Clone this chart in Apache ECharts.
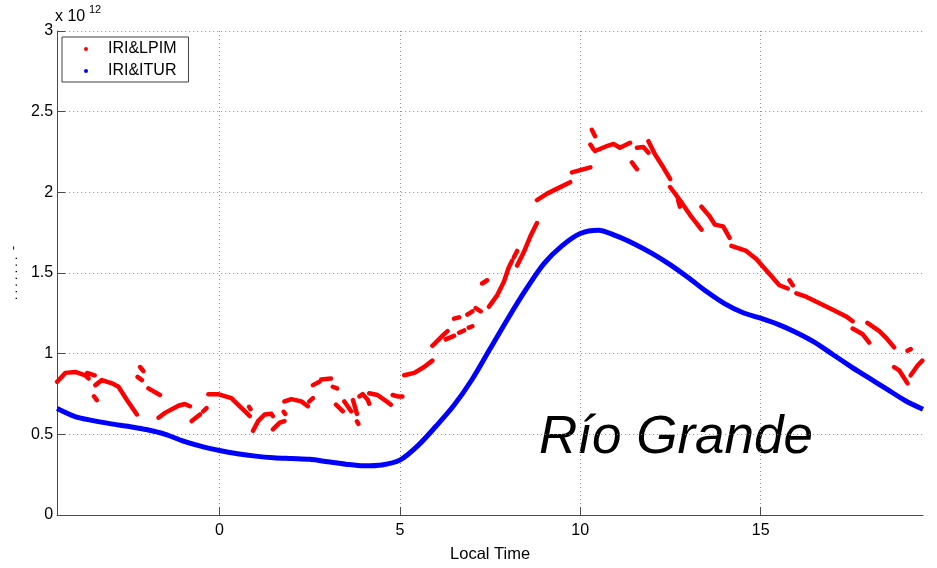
<!DOCTYPE html>
<html><head><meta charset="utf-8">
<script src="https://cdn.jsdelivr.net/npm/echarts@6/dist/echarts.min.js"></script>
<style>html,body{margin:0;padding:0;background:#fff}#c{width:937px;height:568px}</style>
</head><body><div id="c"></div>
<script>
const xTicks = [0, 5, 10, 15];
const seriesNames = ['IRI&LPIM', 'IRI&ITUR'];
const blueX = [-4.5,-4,-3.5,-3,-2.5,-2,-1.5,-1,-0.5,0,0.5,1,1.5,2,2.5,3,3.5,4,4.5,5,5.5,6,6.5,7,7.5,8,8.5,9,9.5,10,10.5,11,11.5,12,12.5,13,13.5,14,14.5,15,15.5,16,16.5,17,17.5,18,18.5,19,19.5];
const blueY = [0.66,0.61,0.585,0.565,0.548,0.528,0.50,0.458,0.425,0.40,0.38,0.365,0.355,0.35,0.345,0.33,0.315,0.305,0.31,0.34,0.43,0.55,0.68,0.84,1.03,1.22,1.40,1.56,1.67,1.745,1.765,1.73,1.68,1.62,1.55,1.47,1.385,1.31,1.255,1.22,1.18,1.13,1.07,0.995,0.92,0.85,0.78,0.71,0.655];
const redX = [
-4.50,-4.27,-4.00,-3.72,-3.63,null,
-3.67,-3.46,null,
-3.44,-3.26,-2.98,-2.80,-2.57,-2.29,null,
-3.48,-3.40,null,
-2.20,-2.11,null,
-2.27,-2.15,null,
-1.97,-1.65,null,
-1.69,-1.51,-1.14,-0.96,-0.82,null,
-0.77,-0.54,null,
-0.45,-0.36,null,
-0.31,-0.04,0.33,0.42,0.75,0.84,null,
0.82,0.86,null,
0.93,1.07,1.25,1.44,1.48,null,
1.48,1.67,1.80,null,
1.78,1.82,null,
1.80,1.99,2.27,2.45,null,
2.49,2.59,null,
2.59,2.77,null,
2.82,3.09,null,
3.14,3.26,null,
3.23,3.42,null,
3.46,3.65,null,
3.70,3.81,null,
3.81,3.85,null,
3.88,3.97,4.11,4.15,null,
4.15,4.38,4.57,4.75,null,
4.80,4.94,5.07,null,
5.12,5.40,5.67,5.90,null,
5.90,6.04,6.22,6.32,null,
6.27,6.50,null,
6.50,6.64,null,
6.64,6.78,null,
6.87,7.01,null,
6.91,7.01,null,
7.10,7.24,null,
7.28,7.42,null,
7.47,7.70,7.88,8.02,8.11,null,
8.16,8.25,null,
8.25,8.43,8.62,8.80,null,
8.80,9.08,9.36,9.72,null,
9.77,10.00,10.28,null,
10.28,10.37,null,
10.32,10.41,null,
10.41,10.74,10.92,11.10,11.38,null,
11.43,11.57,null,
11.57,11.75,11.89,null,
11.89,12.07,12.30,12.49,null,
12.49,12.76,13.04,13.36,null,
12.71,12.76,null,
13.36,13.59,13.73,13.96,14.14,null,
14.19,14.60,14.88,15.16,15.52,15.75,null,
15.80,15.89,null,
15.99,16.26,16.63,17.00,17.37,17.55,null,
17.55,17.83,18.01,null,
17.96,18.29,18.47,18.70,null,
19.07,19.16,null,
18.70,18.84,19.07,null,
19.16,19.35,19.48];
const redY = [
0.826,0.881,0.887,0.866,0.846,null,
0.880,0.866,null,
0.805,0.836,0.816,0.795,0.714,0.623,null,
0.736,0.712,null,
0.917,0.893,null,
0.856,0.836,null,
0.785,0.744,null,
0.603,0.633,0.677,0.688,0.674,null,
0.582,0.623,null,
0.643,0.663,null,
0.749,0.749,0.724,0.704,0.633,0.613,null,
0.670,0.656,null,
0.522,0.582,0.623,0.627,0.613,null,
0.531,0.572,0.582,null,
0.640,0.626,null,
0.704,0.718,0.704,0.674,null,
0.704,0.724,null,
0.805,0.826,null,
0.840,0.846,null,
0.795,0.785,null,
0.684,0.643,null,
0.704,0.643,null,
0.712,0.627,null,
0.580,0.565,null,
0.735,0.749,0.714,0.690,null,
0.755,0.744,0.714,0.684,null,
0.744,0.735,0.735,null,
0.866,0.881,0.917,0.957,null,
1.049,1.079,1.120,1.140,null,
1.089,1.110,null,
1.217,1.225,null,
1.130,1.144,null,
1.242,1.262,null,
1.161,1.170,null,
1.282,1.262,null,
1.435,1.455,null,
1.292,1.363,1.444,1.536,1.576,null,
1.597,1.637,null,
1.546,1.627,1.729,1.810,null,
1.952,1.992,2.023,2.063,null,
2.124,2.138,2.155,null,
2.296,2.266,null,
2.388,2.348,null,
2.256,2.287,2.300,2.276,2.307,null,
2.185,2.144,null,
2.276,2.281,2.246,null,
2.317,2.236,2.155,2.083,null,
2.033,1.952,1.861,1.769,null,
1.954,1.911,null,
1.911,1.850,1.800,1.789,1.718,null,
1.668,1.637,1.587,1.516,1.424,1.404,null,
1.455,1.424,null,
1.374,1.353,1.313,1.272,1.231,1.201,null,
1.156,1.120,1.069,null,
1.191,1.140,1.100,1.039,null,
1.018,1.029,null,
0.917,0.897,0.816,null,
0.866,0.927,0.957];

const redData = redX.map((x, i) => (x === null || redY[i] === null) ? ['-', '-'] : [x, redY[i]]);
const blueData = blueX.map((x, i) => [x, blueY[i]]);

const FONT = '"Liberation Sans", Arial, sans-serif';
const axisCol = '#4a4a4a';
const chart = echarts.init(document.getElementById('c'), null, {renderer: 'canvas'});
chart.setOption({
  animation: false,
  backgroundColor: '#fff',
  grid: {left: 55, right: 14, top: 31, bottom: 44, containLabel: false},
  legend: {
    orient: 'vertical', left: 62, top: 37,
    padding: [4, 12, 3, 22], itemGap: 6,
    backgroundColor: '#fff', borderColor: '#404040', borderWidth: 1,
    icon: 'circle', itemWidth: 4, itemHeight: 4,
    textStyle: {fontFamily: FONT, fontSize: 16, color: '#000', padding: [0, 0, 0, 15]},
    data: seriesNames
  },
  xAxis: {
    type: 'value', min: -4.5, max: 19.5,
    name: 'Local Time', nameLocation: 'middle', nameGap: 31,
    nameTextStyle: {fontFamily: FONT, fontSize: 16.5, color: '#000'},
    axisLine: {show: true, onZero: false, lineStyle: {color: axisCol, width: 1}},
    axisTick: {show: true, inside: true, length: 8, lineStyle: {color: axisCol}, customValues: xTicks},
    axisLabel: {fontFamily: FONT, fontSize: 16, color: '#000', margin: 8, customValues: xTicks},
    splitLine: {show: true, lineStyle: {color: '#8a8a8a', type: [1, 3], width: 1}}
  },
  yAxis: {
    type: 'value', min: 0, max: 3, interval: 0.5,
    name: '. . . . . . .  -', nameLocation: 'middle', nameGap: 32, nameRotate: 90,
    nameTextStyle: {fontFamily: FONT, fontSize: 12, color: '#000'},
    axisLine: {show: true, onZero: false, lineStyle: {color: axisCol, width: 1}},
    axisTick: {show: true, inside: true, length: 8, lineStyle: {color: axisCol}},
    axisLabel: {fontFamily: FONT, fontSize: 16, color: '#000', margin: 4},
    splitLine: {show: true, lineStyle: {color: '#8a8a8a', type: [1, 3], width: 1}}
  },
  graphic: [
    {type: 'text', left: 55, top: 9, style: {text: 'x 10', font: '16px ' + FONT, fill: '#000'}},
    {type: 'text', left: 89, top: 4, style: {text: '12', font: '11px ' + FONT, fill: '#000'}},
    {type: 'text', left: 539, top: 412, style: {text: 'Río Grande', font: 'italic 53px ' + FONT, fill: '#000'}}
  ],
  series: [
    {name: seriesNames[0], type: 'line', data: redData, showSymbol: false, symbol: 'circle', connectNulls: false,
     itemStyle: {color: '#ff0000'}, lineStyle: {color: '#ff0000', width: 4.5, cap: 'round', join: 'round'}, z: 3},
    {name: seriesNames[1], type: 'line', data: blueData, showSymbol: false, symbol: 'circle', smooth: 0.3,
     itemStyle: {color: '#0000ff'}, lineStyle: {color: '#0000ff', width: 5}, z: 4}
  ]
});
</script>
</body></html>
